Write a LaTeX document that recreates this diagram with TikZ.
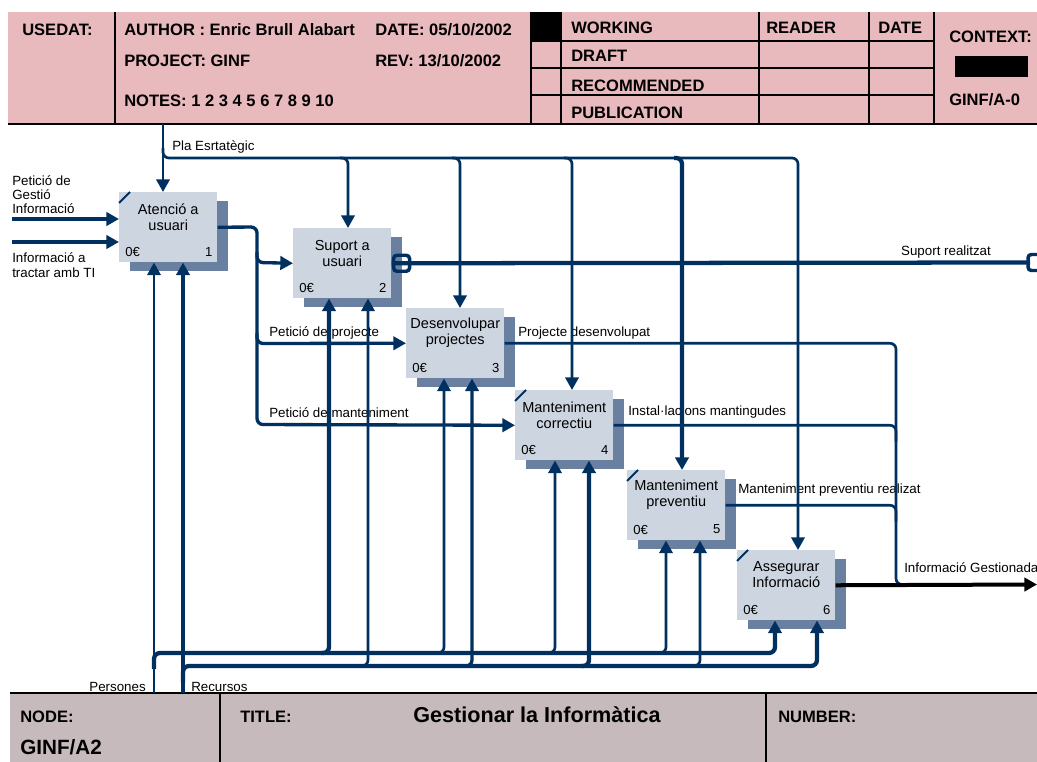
\documentclass[tikz,border=0pt]{standalone}
\usepackage{fontspec}
\setmainfont{Liberation Sans}
\usetikzlibrary{arrows.meta,shadows,calc}

\definecolor{idefnavy}{RGB}{0,48,96}
\definecolor{boxfill}{RGB}{205,213,224}
\definecolor{boxshade}{RGB}{106,128,160}
\definecolor{headpink}{RGB}{232,185,189}
\definecolor{footmauve}{RGB}{198,186,189}

\begin{document}
\begin{tikzpicture}[x=0.75pt,y=-0.75pt,
  hdrline/.style={black, line width=1.1pt},
  hdrtext/.style={anchor=west, inner sep=0pt, font=\fontsize{12.4pt}{14pt}\selectfont\bfseries},
  lbl/.style={anchor=west, inner sep=0pt, font=\fontsize{10pt}{11pt}\selectfont},
  box/.style={rectangle, fill=boxfill, minimum width=73.5pt, minimum height=52.5pt,
    inner sep=0pt, anchor=north west,
    general shadow={fill=boxshade, shadow xshift=8.25pt, shadow yshift=-6.75pt}},
  boxtitle/.style={align=center, inner sep=0pt, font=\fontsize{10.9pt}{12pt}\selectfont},
  boxcorner/.style={inner sep=0pt, font=\fontsize{9.8pt}{11pt}\selectfont},
  boxtick/.style={draw=idefnavy, line width=1.4pt},
  wire/.style={draw=idefnavy, line width=2pt, rounded corners=4.5pt},
  wiremid/.style={wire, line width=2.5pt},
  wirethick/.style={wire, line width=3.2pt},
  headed/.style={-{Triangle[length=9.5pt,width=10pt]}},
  tunnel/.style={draw=idefnavy, line width=2.6pt, rounded corners=2.5pt},
]
\useasboundingbox (0,0) rectangle (1037,762);
\clip (0,0) rectangle (1037,762);

% ---------- header form ----------
\fill[headpink] (8,12) rectangle (1037,124);
\fill[black] (531,12) rectangle (561,41);
\fill[black] (955,56) rectangle (1028,77);
\draw[hdrline] (8,124) -- (1037,124);
\foreach \xx in {115,531,561,759,869,934} \draw[hdrline] (\xx,12) -- (\xx,124);
\foreach \yy in {41,68,95} \draw[hdrline] (531,\yy) -- (934,\yy);

\node[hdrtext] (usedat) at (22,30) {USEDAT:};
\node[hdrtext] (author) at (124,30) {AUTHOR : Enric Brull Alabart};
\node[hdrtext] (date) at (375,30) {DATE: 05/10/2002};
\node[hdrtext] (project) at (124,61) {PROJECT: GINF};
\node[hdrtext] (rev) at (375,61) {REV: 13/10/2002};
\node[hdrtext] (notes) at (124,101) {NOTES: 1 2 3 4 5 6 7 8 9 10};
\node[hdrtext] (working) at (571,28) {WORKING};
\node[hdrtext] (draft) at (571,56) {DRAFT};
\node[hdrtext] (recomm) at (571,86) {RECOMMENDED};
\node[hdrtext] (public) at (571,113) {PUBLICATION};
\node[hdrtext] (reader) at (766,28) {READER};
\node[hdrtext] (rdate) at (878,28) {DATE};
\node[hdrtext] (context) at (949,37) {CONTEXT:};
\node[hdrtext] (ctxnode) at (949,100) {GINF/A-0};

% ---------- footer form ----------
\fill[footmauve] (10,693) rectangle (1037,762);
\draw[hdrline] (10,693) -- (1037,693);
\draw[hdrline] (220,693) -- (220,762);
\draw[hdrline] (766,693) -- (766,762);
\node[hdrtext] (nodelbl) at (20,717) {NODE:};
\node[hdrtext, font=\fontsize{15.5pt}{17pt}\selectfont\bfseries] (nodeid) at (20,747) {GINF/A2};
\node[hdrtext] (titlelbl) at (240,717) {TITLE:};
\node[inner sep=0pt, font=\fontsize{16.2pt}{18pt}\selectfont\bfseries] (title) at (537,715) {Gestionar la Informàtica};
\node[hdrtext] (numberlbl) at (778,717) {NUMBER:};

% ---------- activity boxes ----------
\node[box] (b1) at (119,192) {};
\node[box] (b2) at (293,228) {};
\node[box] (b3) at (406,308) {};
\node[box] (b4) at (515,390) {};
\node[box] (b5) at (627,470) {};
\node[box] (b6) at (737,550) {};

\foreach \b/\t/\n in {b1/{Atenció a\\usuari}/1, b2/{Suport a\\usuari}/2,
    b3/{Desenvolupar\\projectes}/3, b4/{Manteniment\\correctiu}/4,
    b5/{Manteniment\\preventiu}/5, b6/{Assegurar\\Informació}/6}{
  \node[boxtitle] (\b t) at ($(\b.north)+(0,25)$) {\t};
  \node[boxcorner, anchor=west] (\b c) at ($(\b.south west)+(6,-11)$) {0€};
  \node[boxcorner, anchor=east] (\b n) at ($(\b.south east)+(-5,-11)$) {\n};
}
\foreach \b in {b1,b4,b5,b6}
  \draw[boxtick] ($(\b.north west)+(0,11)$) -- ($(\b.north west)+(11,0)$);

% ---------- arrow labels ----------
\node[lbl] (plalbl) at (172,147) {Pla Esrtatègic};
\node[lbl] (in1a) at (12,181) {Petició de};
\node[lbl] (in1b) at (12,195) {Gestió};
\node[lbl] (in1c) at (12,209) {Informació};
\node[lbl] (in2a) at (12,258) {Informació a};
\node[lbl] (in2b) at (12,273) {tractar amb TI};
\node[lbl, anchor=center] (suplbl) at (946,252) {Suport realitzat};
\node[lbl] (ppjlbl) at (269,333) {Petició de projecte};
\node[lbl] (pdlbl) at (518,333) {Projecte desenvolupat};
\node[lbl] (pmlbl) at (269,413) {Petició de manteniment};
\node[lbl] (imlbl) at (628,412) {Instal·lacions mantingudes};
\node[lbl] (mprlbl) at (738,490) {Manteniment preventiu realizat};
\node[lbl] (iglbl) at (904,568) {Informació Gestionada};
\node[lbl, anchor=east] (perslbl) at (146,687) {Persones};
\node[lbl] (reclbl) at (191,687) {Recursos};

% ---------- routing points ----------
\coordinate (plaTop) at (163,124);
\coordinate (pla1) at (163,158);
\coordinate (pla2) at (348,158);
\coordinate (pla3) at (460,158);
\coordinate (pla4) at (572,158);
\coordinate (pla5) at (682,158);
\coordinate (pla6) at (798,158);
\coordinate (in1) at (12,219);
\coordinate (in2) at (12,242);
\coordinate (o1) at (257,227);
\coordinate (o1b) at (257,262.5);
\coordinate (o1c) at (257,343.5);
\coordinate (o1d) at (257,424.5);
\coordinate (supEnd) at (1030,262.5);
\coordinate (col) at (896,0);
\coordinate (colEnd) at (896,584.5);
\coordinate (igEnd) at (1037,584.5);
\coordinate (pers) at (154,693);
\coordinate (persJ) at (154,653);
\coordinate (rec) at (183,693);
\coordinate (recJ) at (183,666);
\coordinate (pers6) at (775,653);
\coordinate (rec6) at (817,666);
\coordinate (m2a) at (329,653);
\coordinate (m2b) at (368,666);
\coordinate (m3a) at (444,653);
\coordinate (m3b) at (472,666);
\coordinate (m4a) at (555,653);
\coordinate (m4b) at (589,666);
\coordinate (m5a) at (666,653);
\coordinate (m5b) at (700,666);

% ---------- controls: Pla Esrtatègic ----------
\draw[wire, headed] (plaTop) -- (plaTop |- b1.north);
\draw[wire, headed] ($(pla1)+(0,-10)$) -- (pla1) -- (pla6) -- (pla6 |- b6.north);
\draw[wire, headed] ($(pla2)+(-8,0)$) -- (pla2) -- (pla2 |- b2.north);
\draw[wire, headed] ($(pla3)+(-8,0)$) -- (pla3) -- (pla3 |- b3.north);
\draw[wire, headed] ($(pla4)+(-8,0)$) -- (pla4) -- (pla4 |- b4.north);
\draw[wirethick, headed] ($(pla5)+(-8,0)$) -- (pla5) -- (pla5 |- b5.north);

% ---------- inputs ----------
\draw[wirethick, line width=3.4pt, headed] (in1) -- (in1 -| b1.west);
\draw[wirethick, line width=3.4pt, headed] (in2) -- (in2 -| b1.west);

% ---------- box 1 output and its branches ----------
\draw[wiremid, headed] (b1.east) -- (o1) -- (o1d) -- (b4.west);
\draw[wiremid, headed] ($(o1b)+(0,-10)$) -- (o1b) -- (b2.west);
\draw[wiremid, headed] ($(o1c)+(0,-10)$) -- (o1c) -- (b3.west);

% ---------- box 2 output (tunnelled) ----------
\draw[wirethick] (b2.east) -- (supEnd);
\draw[tunnel] ($(b2.east)+(2,-8)$) rectangle ($(b2.east)+(18,8)$);
\draw[tunnel] ($(supEnd)+(-2,-8)$) rectangle ($(supEnd)+(14,8)$);

% ---------- outputs 3, 4, 5 joined into the final output ----------
\draw[wire] (b3.east) -- (b3.east -| col) -- (colEnd) -- ($(colEnd)+(16,0)$);
\draw[wire] (b4.east) -- (b4.east -| col) -- ($(b4.east -| col)+(0,16)$);
\draw[wire] (b5.east) -- (b5.east -| col) -- ($(b5.east -| col)+(0,16)$);
\draw[black, line width=3pt, headed] (b6.east) -- (igEnd);

% ---------- mechanisms: Persones and Recursos ----------
\draw[wire, headed] (pers) -- (pers |- b1.south);
\draw[wirethick, line width=3.5pt, headed] (rec) -- (rec |- b1.south);
\draw[wirethick, headed] ($(persJ)+(0,16)$) -- (persJ) -- (pers6) -- (pers6 |- b6.south);
\draw[wirethick, headed] ($(recJ)+(0,16)$) -- (recJ) -- (rec6) -- (rec6 |- b6.south);

\draw[wirethick, headed] ($(m2a)+(-8,0)$) -- (m2a) -- (m2a |- b2.south);
\draw[wire, headed] ($(m2b)+(-8,0)$) -- (m2b) -- (m2b |- b2.south);
\draw[wire, headed] ($(m3a)+(-8,0)$) -- (m3a) -- (m3a |- b3.south);
\draw[wiremid, headed] ($(m3b)+(-8,0)$) -- (m3b) -- (m3b |- b3.south);
\draw[wire, headed] ($(m4a)+(-8,0)$) -- (m4a) -- (m4a |- b4.south);
\draw[wirethick, headed] ($(m4b)+(-8,0)$) -- (m4b) -- (m4b |- b4.south);
\draw[wire, headed] ($(m5a)+(-8,0)$) -- (m5a) -- (m5a |- b5.south);
\draw[wire, headed] ($(m5b)+(-8,0)$) -- (m5b) -- (m5b |- b5.south);

\end{tikzpicture}
\end{document}
